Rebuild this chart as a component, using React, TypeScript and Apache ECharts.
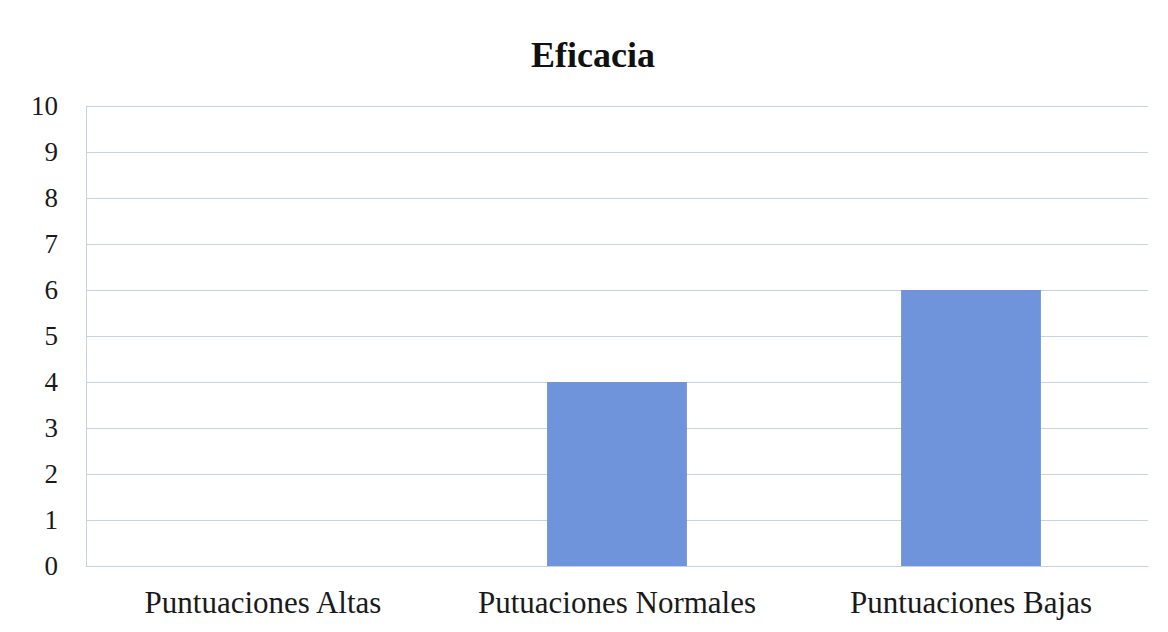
import React, { useEffect, useRef } from "react";
import * as echarts from "echarts";

const categories = ["Puntuaciones Altas", "Putuaciones Normales", "Puntuaciones Bajas"];
const values = [0, 4, 6];
const yTicks = { min: 0, max: 10, interval: 1 };

export default function App() {
  const ref = useRef<HTMLDivElement>(null);

  useEffect(() => {
    if (!ref.current) return;
    const chart = echarts.init(ref.current, undefined, { renderer: "svg" });
    const serif = "Times New Roman, Liberation Serif, serif";
    chart.setOption({
      animation: false,
      backgroundColor: "#ffffff",
      title: {
        text: "Eficacia",
        left: 588,
        top: 32,
        textAlign: "center",
        textStyle: { fontFamily: serif, fontWeight: "bold", fontSize: 36, color: "#111111" },
      },
      grid: { left: 86, right: 20, top: 106, bottom: 66 },
      xAxis: {
        type: "category",
        data: categories,
        axisLine: { show: true, lineStyle: { color: "#c8d3e2", width: 1 } },
        axisTick: { show: false },
        axisLabel: {
          interval: 0,
          hideOverlap: false,
          fontFamily: serif,
          fontSize: 31,
          color: "#1a1a1a",
          margin: 21,
        },
      },
      yAxis: {
        type: "value",
        min: yTicks.min,
        max: yTicks.max,
        interval: yTicks.interval,
        axisLine: { show: true, lineStyle: { color: "#c8d3e2", width: 1 } },
        axisTick: { show: false },
        splitLine: { lineStyle: { color: "#c6d3e6", width: 1 } },
        axisLabel: { fontFamily: serif, fontSize: 27, color: "#1a1a1a", margin: 28 },
      },
      series: [
        {
          type: "bar",
          data: values,
          barWidth: "39.5%",
          itemStyle: { color: "#6f94dc" },
        },
      ],
    });
    return () => chart.dispose();
  }, []);

  return <div ref={ref} style={{ width: 1168, height: 632, margin: -8 }} />;
}
